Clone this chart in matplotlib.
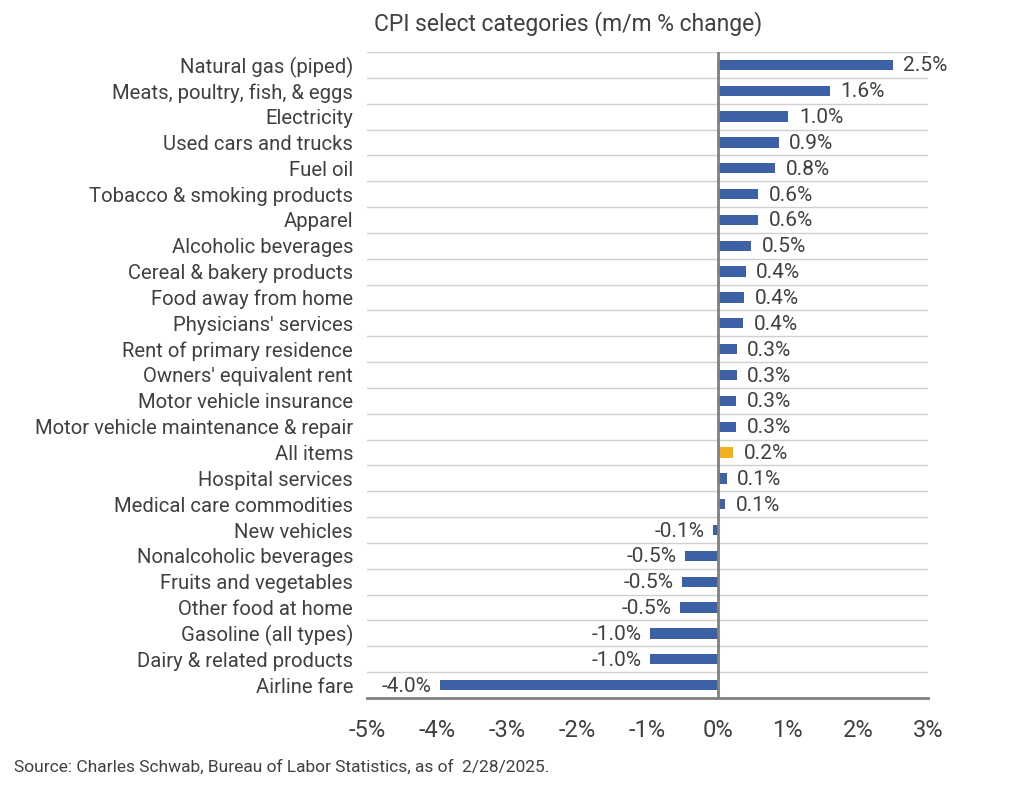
import numpy as np
import matplotlib.pyplot as plt

plt.rcParams['font.family'] = ['Roboto', 'DejaVu Sans']

categories = [
    "Natural gas (piped)", "Meats, poultry, fish, & eggs", "Electricity",
    "Used cars and trucks", "Fuel oil", "Tobacco & smoking products", "Apparel",
    "Alcoholic beverages", "Cereal & bakery products", "Food away from home",
    "Physicians' services", "Rent of primary residence", "Owners' equivalent rent",
    "Motor vehicle insurance", "Motor vehicle maintenance & repair", "All items",
    "Hospital services", "Medical care commodities", "New vehicles",
    "Nonalcoholic beverages", "Fruits and vegetables", "Other food at home",
    "Gasoline (all types)", "Dairy & related products", "Airline fare",
]
values = [2.50, 1.60, 1.01, 0.87, 0.82, 0.58, 0.58, 0.48, 0.40, 0.38, 0.36,
          0.27, 0.27, 0.26, 0.26, 0.22, 0.13, 0.11, -0.06, -0.47, -0.51, -0.53,
          -0.96, -0.96, -3.96]
highlight = "All items"
xticks = [-5, -4, -3, -2, -1, 0, 1, 2, 3]

blue = "#3d61a6"
orange = "#f4b21a"
text_col = "#404040"

fig = plt.figure(figsize=(10.24, 8), dpi=100)
ax = fig.add_axes([367 / 1024, 1 - 698 / 800, (928 - 367) / 1024, (698 - 52) / 800])

n = len(categories)
y = np.arange(n)
colors = [orange if c == highlight else blue for c in categories]
ax.barh(y, values, height=0.4, color=colors, zorder=3)

for yi, v in zip(y, values):
    lab = f"{v:.1f}%"
    if v >= 0:
        ax.text(v + 0.15, yi + 0.04, lab, va='center', ha='left', fontsize=15, color=text_col)
    else:
        ax.text(v - 0.12, yi + 0.04, lab, va='center', ha='right', fontsize=15, color=text_col)

ax.set_ylim(n - 0.5, -0.5)
ax.set_xlim(-5, 3)
ax.set_yticks(y)
ax.set_yticklabels(categories, fontsize=14.6, color=text_col)
ax.set_xticks(xticks)
ax.set_xticklabels([f"{t}%" for t in xticks], fontsize=17, color=text_col)
ax.tick_params(axis='y', length=0, pad=10)
ax.tick_params(axis='x', length=0, pad=15)

for b in np.arange(-0.5, n - 0.5, 1):
    ax.axhline(b, color="#d0d0d0", lw=1, zorder=1)
ax.axvline(0, color="#808080", lw=2, zorder=4)

for s in ['top', 'right', 'left']:
    ax.spines[s].set_visible(False)
ax.spines['bottom'].set_color("#808080")
ax.spines['bottom'].set_linewidth(2)

fig.text(568 / 1024, 1 - 24 / 800, "CPI select categories (m/m % change)",
         ha='center', va='center', fontsize=16.5, color=text_col)
fig.text(14 / 1024, 1 - 767 / 800,
         "Source: Charles Schwab, Bureau of Labor Statistics, as of  2/28/2025.",
         ha='left', va='center', fontsize=12.5, color=text_col)

plt.savefig("out.png", dpi=100)
